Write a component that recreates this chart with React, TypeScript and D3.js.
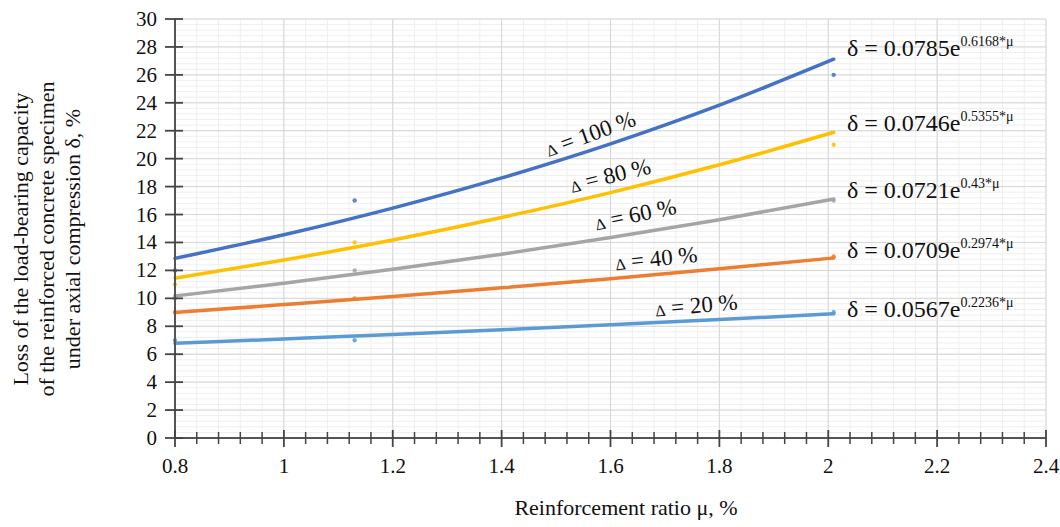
import React from "react";
import * as d3 from "d3";

// ---- data ----
const muGrid = [0.8, 1.0, 1.2, 1.4, 1.6, 1.8, 2.01];
const trend100 = [12.86, 14.55, 16.46, 18.62, 21.06, 23.83, 27.12];
const trend80 = [11.45, 12.74, 14.18, 15.79, 17.57, 19.56, 21.89];
const trend60 = [10.17, 11.08, 12.08, 13.16, 14.35, 15.63, 17.11];
const trend40 = [8.99, 9.55, 10.13, 10.75, 11.41, 12.11, 12.89];
const trend20 = [6.78, 7.09, 7.41, 7.75, 8.11, 8.48, 8.89];

const pointMu = [0.8, 1.13, 2.01];
const points100 = [12, 17, 26];
const points80 = [11, 14, 21];
const points60 = [10, 12, 17];
const points40 = [9, 10, 13];
const points20 = [7, 7, 9];

const seriesNames = ["Δ = 100 %", "Δ = 80 %", "Δ = 60 %", "Δ = 40 %", "Δ = 20 %"];
const eqCoef = ["0.0785", "0.0746", "0.0721", "0.0709", "0.0567"];
const eqExp = ["0.6168", "0.5355", "0.43", "0.2974", "0.2236"];

const xTicks = [0.8, 1, 1.2, 1.4, 1.6, 1.8, 2, 2.2, 2.4];
const yTicks = [0, 2, 4, 6, 8, 10, 12, 14, 16, 18, 20, 22, 24, 26, 28, 30];

const xTitle = "Reinforcement ratio μ, %";
const yTitle = [
  "Loss of the load-bearing capacity",
  "of the reinforced concrete specimen",
  "under axial compression δ, %",
];

// ---- styling ----
const colors = ["#4472C4", "#FFC000", "#A5A5A5", "#ED7D31", "#5B9BD5"];
const trends = [trend100, trend80, trend60, trend40, trend20];
const pts = [points100, points80, points60, points40, points20];
const labelPos = [
  { x: 593, y: 141, a: -20 },
  { x: 612, y: 183, a: -14 },
  { x: 637, y: 222, a: -12 },
  { x: 657, y: 266, a: -6 },
  { x: 697, y: 313, a: -5 },
];
const eqBaselines = [56, 131, 198, 258, 317];
const FONT = '"Liberation Serif", "Times New Roman", Times, serif';
const ts: React.CSSProperties = { fontFamily: FONT };

export default function App() {
  const W = 1060, H = 527;
  const x = d3.scaleLinear().domain([0.8, 2.4]).range([175, 1046]);
  const y = d3.scaleLinear().domain([0, 30]).range([438, 19]);

  const minorX = d3.range(0, 41).map((i) => 0.8 + i * 0.04);
  const minorY = d3.range(0, 76).map((i) => i * 0.4);

  const line = d3
    .line<number>()
    .x((_, i) => x(muGrid[i]))
    .y((d) => y(d))
    .curve(d3.curveMonotoneX);

  return (
    <svg
      width={W}
      height={H}
      style={{ position: "absolute", left: 0, top: 0, background: "#fff", fontFamily: FONT }}
    >
      <rect x={0} y={0} width={W} height={H} fill="#fff" />
      {/* minor grid */}
      {minorX.map((v, i) => (
        <line key={"mx" + i} x1={x(v)} x2={x(v)} y1={y(30)} y2={y(0)} stroke="#efefef" strokeWidth={1} />
      ))}
      {minorY.map((v, i) => (
        <line key={"my" + i} x1={x(0.8)} x2={x(2.4)} y1={y(v)} y2={y(v)} stroke="#efefef" strokeWidth={1} />
      ))}
      {/* major grid */}
      {xTicks.map((v) => (
        <line key={"gx" + v} x1={x(v)} x2={x(v)} y1={y(30)} y2={y(0)} stroke="#d6d6d6" strokeWidth={1} />
      ))}
      {yTicks.map((v) => (
        <line key={"gy" + v} x1={x(0.8)} x2={x(2.4)} y1={y(v)} y2={y(v)} stroke="#d6d6d6" strokeWidth={1} />
      ))}

      {/* trend lines */}
      {trends.map((t, k) => (
        <path key={"t" + k} d={line(t) || ""} fill="none" stroke={colors[k]} strokeWidth={3.5} strokeLinecap="round" />
      ))}
      {/* data points */}
      {pts.map((p, k) =>
        p.map((v, i) => (
          <circle key={"p" + k + "-" + i} cx={x(pointMu[i])} cy={y(v)} r={2.2} fill={colors[k]} opacity={0.85} />
        ))
      )}

      {/* axes */}
      <line x1={x(0.8)} x2={x(0.8)} y1={y(30)} y2={y(0)} stroke="#555" strokeWidth={2} />
      <line x1={x(0.8)} x2={x(2.4)} y1={y(0)} y2={y(0)} stroke="#555" strokeWidth={2} />
      {yTicks.map((v) => (
        <line key={"yt" + v} x1={x(0.8) - 10} x2={x(0.8) + 8} y1={y(v)} y2={y(v)} stroke="#444" strokeWidth={1.8} />
      ))}
      {minorX.map((v, i) =>
        i % 5 === 0 ? (
          <line key={"xt" + i} x1={x(v)} x2={x(v)} y1={y(0) - 8} y2={y(0) + 9} stroke="#444" strokeWidth={1.8} />
        ) : (
          <line key={"xm" + i} x1={x(v)} x2={x(v)} y1={y(0) - 6} y2={y(0) + 6} stroke="#444" strokeWidth={1.5} />
        )
      )}
      {yTicks.map((v) => (
        <text key={"yl" + v} style={ts} x={157} y={y(v) + 7} textAnchor="end" fontSize={21} fill="#111">
          {v}
        </text>
      ))}
      {xTicks.map((v) => (
        <text key={"xl" + v} style={ts} x={x(v)} y={473} textAnchor="middle" fontSize={21} fill="#111">
          {String(v)}
        </text>
      ))}

      {/* series labels */}
      {seriesNames.map((s, k) => (
        <text
          key={"sl" + k}
          style={ts}
          transform={`translate(${labelPos[k].x},${labelPos[k].y}) rotate(${labelPos[k].a})`}
          textAnchor="middle"
          fontSize={23}
          fill="#111"
        >
          <tspan fontSize={16}>{s.slice(0, 1)}</tspan>
          {s.slice(1)}
        </text>
      ))}

      {/* equations */}
      {eqCoef.map((c, k) => (
        <text key={"eq" + k} style={ts} x={847} y={eqBaselines[k]} fontSize={24} fill="#111">
          {"δ = " + c + "e"}
          <tspan fontSize={14} dy={-10}>{eqExp[k] + "*μ"}</tspan>
        </text>
      ))}

      {/* titles */}
      <text style={ts} x={626} y={515} textAnchor="middle" fontSize={22} fill="#111">
        {xTitle}
      </text>
      {yTitle.map((t, i) => (
        <text
          key={"yt-t" + i}
          style={ts}
          transform={`translate(${28 + i * 26},239) rotate(-90)`}
          textAnchor="middle"
          fontSize={22}
          fill="#111"
        >
          {t}
        </text>
      ))}
    </svg>
  );
}
